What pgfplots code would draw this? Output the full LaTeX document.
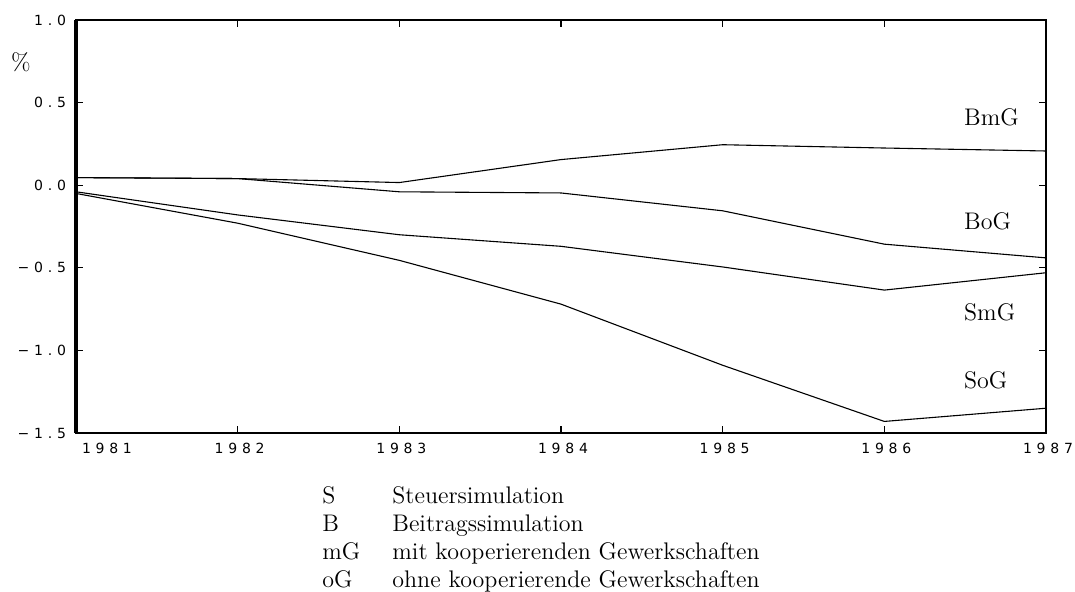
\documentclass[border=0pt]{standalone}
\usepackage{pgfplots}
\pgfplotsset{compat=1.18}
\usepackage{fontspec}
\newfontfamily\tickfont[LetterSpace=34]{DejaVu Sans}
\newcommand\txt{\fontsize{12}{14.5}\selectfont}

\begin{document}
\begin{tikzpicture}
\begin{axis}[
  name=ax,
  scale only axis,
  width=485pt, height=206.5pt,
  xmin=1981, xmax=1987,
  ymin=-1.5, ymax=1.0,
  xtick={1981,1982,1983,1984,1985,1986,1987},
  xticklabels={\makebox[0pt][l]{\hspace{2pt}1981},1982,1983,1984,1985,1986,1987},
  ytick={-1.5,-1,-0.5,0,0.5,1},
  yticklabels={−1.5,−1.0,−0.5,0.0,0.5,1.0},
  tick align=inside,
  major tick length=3.5pt,
  tick style={black, line width=0.6pt},
  axis line style={line width=1.1pt},
  ticklabel style={font=\tickfont\fontsize{7}{8}\selectfont},
  xticklabel style={yshift=-1.5pt, xshift=1pt},
  yticklabel style={xshift=-1.5pt},
  clip=false,
]
% Simulationsergebnisse
\addplot[black, line width=0.55pt] coordinates {
  (1981,0.046) (1982,0.04) (1983,0.016) (1984,0.155) (1985,0.245) (1986,0.225) (1987,0.207)
}; % BmG
\addplot[black, line width=0.55pt] coordinates {
  (1981,0.046) (1982,0.04) (1983,-0.04) (1984,-0.047) (1985,-0.155) (1986,-0.357) (1987,-0.44)
}; % BoG
\addplot[black, line width=0.55pt] coordinates {
  (1981,-0.04) (1982,-0.18) (1983,-0.30) (1984,-0.37) (1985,-0.495) (1986,-0.635) (1987,-0.53)
}; % SmG
\addplot[black, line width=0.55pt] coordinates {
  (1981,-0.05) (1982,-0.23) (1983,-0.455) (1984,-0.72) (1985,-1.09) (1986,-1.43) (1987,-1.35)
}; % SoG

\draw[line width=1.6pt] (rel axis cs:0,0) -- (rel axis cs:0,1);

\node[anchor=base west, font=\txt] at (axis cs:1986.45,0.36) {BmG};
\node[anchor=base west, font=\txt] at (axis cs:1986.45,-0.27) {BoG};
\node[anchor=base west, font=\txt] at (axis cs:1986.45,-0.82) {SmG};
\node[anchor=base west, font=\txt] at (axis cs:1986.45,-1.23) {SoG};
\end{axis}

\node[font=\txt] at ([shift={(-27.5pt,-21pt)}]ax.north west) {\%};

% Legende
\foreach \a/\b/\dy in {S/Steuersimulation/35pt,
                       B/Beitragssimulation/49pt,
                       mG/mit kooperierenden Gewerkschaften/63pt,
                       oG/ohne kooperierende Gewerkschaften/77pt}{
  \node[anchor=base west, inner sep=0pt, font=\txt] at ([shift={(123pt,-\dy)}]ax.south west) {\a};
  \node[anchor=base west, inner sep=0pt, font=\txt] at ([shift={(158pt,-\dy)}]ax.south west) {\b};
}

\pgfresetboundingbox
\path ([shift={(-38pt,-79pt)}]ax.south west) rectangle ([shift={(14.5pt,10pt)}]ax.north east);
\end{tikzpicture}
\end{document}
